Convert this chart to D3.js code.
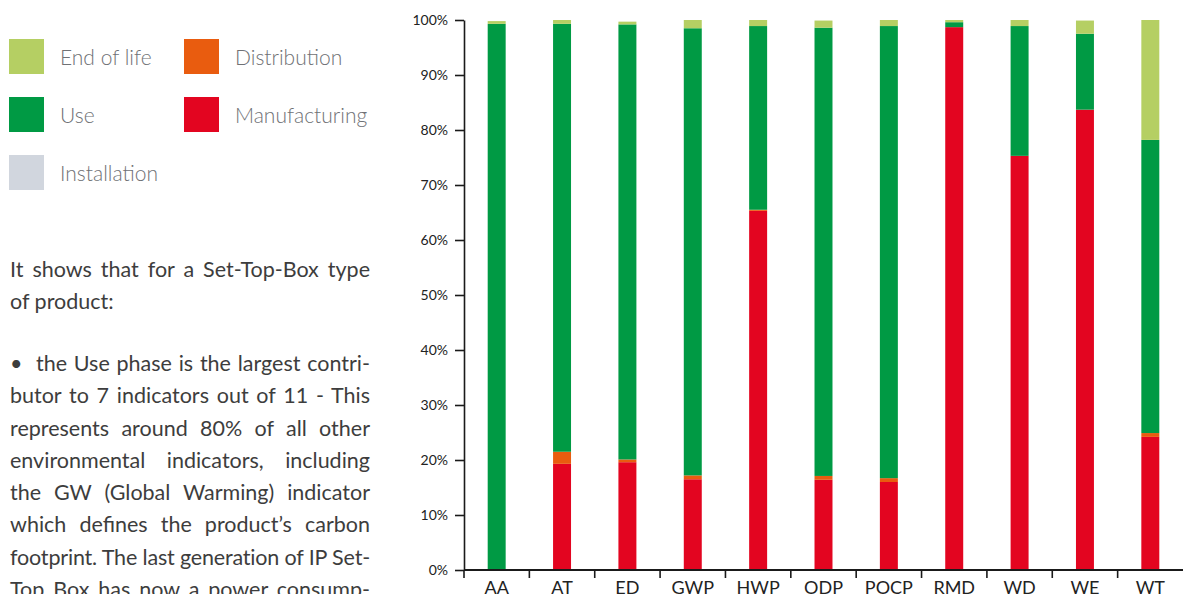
<!DOCTYPE html>
<html>
<head>
<meta charset="utf-8">
<script src="https://cdn.jsdelivr.net/npm/d3@7"></script>
<style>
  body { margin: 0; background: #fff; overflow: hidden; }
  #wrap { position: relative; width: 1183px; height: 594px; }
  svg { position: absolute; left: 0; top: 0; }
  .para { position: absolute; left: 10px; font-family: Lato, "Noto Sans", sans-serif;
          font-size: 21.5px; color: #3d3d3d; white-space: pre; line-height: 1; }
</style>
</head>
<body>
<div id="wrap"><svg width="1183" height="594"></svg></div>
<script>
var categories = ["AA", "AT", "ED", "GWP", "HWP", "ODP", "POCP", "RMD", "WD", "WE", "WT"];
var manufacturing = [0, 19.3, 19.6, 16.5, 65.3, 16.4, 16.0, 98.7, 75.3, 83.7, 24.2];
var distribution = [0, 2.2, 0.5, 0.7, 0.2, 0.7, 0.7, 0, 0, 0, 0.7];
var installation = [0, 0, 0, 0, 0, 0, 0, 0, 0, 0, 0];
var use = [99.3, 77.8, 79.1, 81.3, 33.4, 81.5, 82.2, 0.9, 23.6, 13.8, 53.3];
var endOfLife = [0.5, 0.7, 0.5, 1.5, 1.1, 1.3, 1.1, 0.4, 1.1, 2.4, 21.8];
var yTicks = [0, 10, 20, 30, 40, 50, 60, 70, 80, 90, 100];

var phases = ["Manufacturing", "Distribution", "Installation", "Use", "End of life"];
var color = d3.scaleOrdinal()
  .domain(phases)
  .range(["#e30520", "#e95c0f", "#d1d6de", "#009a44", "#b5cf63"]);

var paragraph = [
  { t: "It shows that for a Set-Top-Box type", j: true },
  { t: "of product:", j: false },
  { t: "", j: false },
  { t: "\u2022  the Use phase is the largest contri-", j: true },
  { t: "butor to 7 indicators out of 11 - This", j: true },
  { t: "represents around 80% of all other", j: true },
  { t: "environmental indicators, including", j: true },
  { t: "the GW (Global Warming) indicator", j: true },
  { t: "which defines the product\u2019s carbon", j: true },
  { t: "footprint. The last generation of IP Set-", j: true },
  { t: "Top Box has now a power consump-", j: true }
];

var svg = d3.select("svg");
var font = "Lato, 'Noto Sans', sans-serif";

// table for the stack
var table = categories.map(function (c, i) {
  return {
    cat: c,
    "Manufacturing": manufacturing[i],
    "Distribution": distribution[i],
    "Installation": installation[i],
    "Use": use[i],
    "End of life": endOfLife[i]
  };
});
var series = d3.stack().keys(phases)(table);

var x = d3.scaleBand().domain(categories).range([464, 1183])
  .paddingInner(0.725).paddingOuter(0.3625);
var y = d3.scaleLinear().domain([0, 100]).range([570, 20]);

// bars
svg.append("g").selectAll("g")
  .data(series)
  .join("g")
  .attr("fill", function (d) { return color(d.key); })
  .selectAll("rect")
  .data(function (d) { return d; })
  .join("rect")
  .attr("x", function (d) { return x(d.data.cat); })
  .attr("width", x.bandwidth())
  .attr("y", function (d) { return y(d[1]); })
  .attr("height", function (d) { return y(d[0]) - y(d[1]); });

// y axis
var gy = svg.append("g")
  .attr("transform", "translate(464,0)")
  .call(d3.axisLeft(y).tickValues(yTicks).tickSize(9).tickSizeOuter(0).tickPadding(7)
    .tickFormat(function (d) { return d + "%"; }));
gy.select(".domain").attr("stroke", "#1a1a1a").attr("stroke-width", 1.6);
gy.selectAll(".tick line").attr("stroke", "#1a1a1a").attr("stroke-width", 1.6);
gy.selectAll(".tick text").attr("font-family", font).attr("font-size", 14).attr("fill", "#222");

// x axis: line, boundary ticks, centred labels
var step = x.step();
var gx = svg.append("g").attr("transform", "translate(0,570)");
gx.append("line")
  .attr("x1", x.range()[0]).attr("x2", x.range()[1])
  .attr("stroke", "#1a1a1a").attr("stroke-width", 1.8);
gx.selectAll(".bt")
  .data(categories)
  .join("line")
  .attr("class", "bt")
  .attr("x1", function (d) { return x(d) - step * x.paddingOuter(); })
  .attr("x2", function (d) { return x(d) - step * x.paddingOuter(); })
  .attr("y1", 0).attr("y2", 8)
  .attr("stroke", "#1a1a1a").attr("stroke-width", 1.6);
gx.selectAll(".lbl")
  .data(categories)
  .join("text")
  .attr("class", "lbl")
  .attr("x", function (d) { return x(d) + x.bandwidth() / 2; })
  .attr("y", 24)
  .attr("text-anchor", "middle")
  .attr("font-family", font)
  .attr("font-size", 18)
  .attr("fill", "#222")
  .text(function (d) { return d; });

// legend
var legendItems = [
  { k: "End of life", col: 0, row: 0 },
  { k: "Distribution", col: 1, row: 0 },
  { k: "Use", col: 0, row: 1 },
  { k: "Manufacturing", col: 1, row: 1 },
  { k: "Installation", col: 0, row: 2 }
];
var lg = svg.append("g").selectAll("g")
  .data(legendItems)
  .join("g")
  .attr("transform", function (d) {
    return "translate(" + (9 + d.col * 175) + "," + (39 + d.row * 58) + ")";
  });
lg.append("rect").attr("width", 35).attr("height", 35)
  .attr("fill", function (d) { return color(d.k); });
lg.append("text")
  .attr("x", 51).attr("y", 26)
  .attr("font-family", font).attr("font-size", 21).attr("font-weight", 300)
  .attr("fill", "#6f7175")
  .text(function (d) { return d.k; });

// paragraph text, each line justified to 360px by hand
var wrap = d3.select("#wrap");
var lineWidth = 360;
paragraph.forEach(function (p, i) {
  if (!p.t) return;
  var top = 276 - 17 + i * 32.3 - (i >= 3 ? 3 : 0);
  var div = wrap.append("div")
    .attr("class", "para")
    .style("top", top + "px")
    .text(p.t);
  if (p.j) {
    var w = div.node().getBoundingClientRect().width;
    var gaps = (p.t.match(/ /g) || []).length;
    var extra = lineWidth - w;
    if (extra < 0) {
      // too wide: squeeze letters a little, then spread words
      var chars = p.t.length;
      div.style("letter-spacing", (extra / chars) + "px");
      w = div.node().getBoundingClientRect().width;
      extra = lineWidth - w;
    }
    if (gaps > 0) div.style("word-spacing", (extra / gaps) + "px");
  }
});
</script>
</body>
</html>
